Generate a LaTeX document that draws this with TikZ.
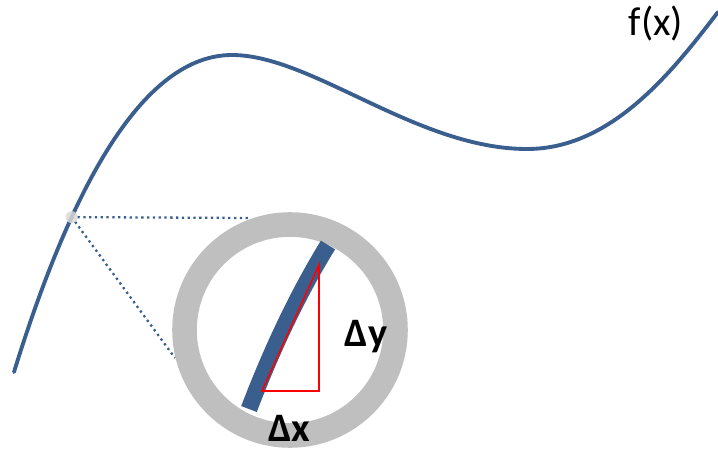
\documentclass[tikz,border=0pt]{standalone}
\usepackage{fontspec}
\setmainfont{Carlito}
\usepackage{tikz}
\usetikzlibrary{calc}
\definecolor{fblue}{HTML}{3A5F8E}
\definecolor{ringgray}{HTML}{BFBFBF}

\begin{document}
\begin{tikzpicture}[x=0.02cm, y=-0.02cm,
    func/.style={line width=2.2pt, fblue, line cap=round},
    lens/.style={draw=ringgray, line width=14pt},
    zoomline/.style={dotted, line width=1.3pt, fblue},
    lbl/.style={font=\fontsize{23}{27}\selectfont\bfseries, inner sep=0pt}]
  \useasboundingbox (0,0) rectangle (718,450);
  % the function
  \draw[func] (14,372) .. controls (73,181) and (145,55) .. (232,55) coordinate[pos=0.305] (pt)
    .. controls (312,55) and (417,149) .. (527,149)
    .. controls (610,149) and (670,75) .. (718,12);
  \node[font=\fontsize{23}{27}\selectfont, inner sep=0pt] (fx) at (656,24) {f(x)};
  % zoom point and magnifier
  \coordinate (lens) at (290,330);
  \coordinate (lensTop) at (250,218);
  \coordinate (lensLeft) at (175,358);
  \draw[zoomline] (pt) -- (lensTop);
  \draw[zoomline] (pt) -- (lensLeft);
  \fill[gray!30, opacity=0.85] (pt) circle[radius=6];
  \draw[lens] (lens) circle[radius=105.5];
  % tangent piece and slope triangle
  \coordinate (segLow) at (249,409);
  \coordinate (segHigh) at (328,245);
  \draw[fblue, line width=9.5pt] (segLow) .. controls (270,354) and (296,297) .. (segHigh);
  \coordinate (tA) at (262,391);
  \coordinate (tB) at (319,265);
  \coordinate (tC) at (319,391);
  \draw[red, line width=0.9pt] (tA) -- (tB) -- (tC) -- cycle;
  \node[lbl] (dy) at (366,337) {Δy};
  \node[lbl] (dx) at (289,428) {Δx};
\end{tikzpicture}
\end{document}
